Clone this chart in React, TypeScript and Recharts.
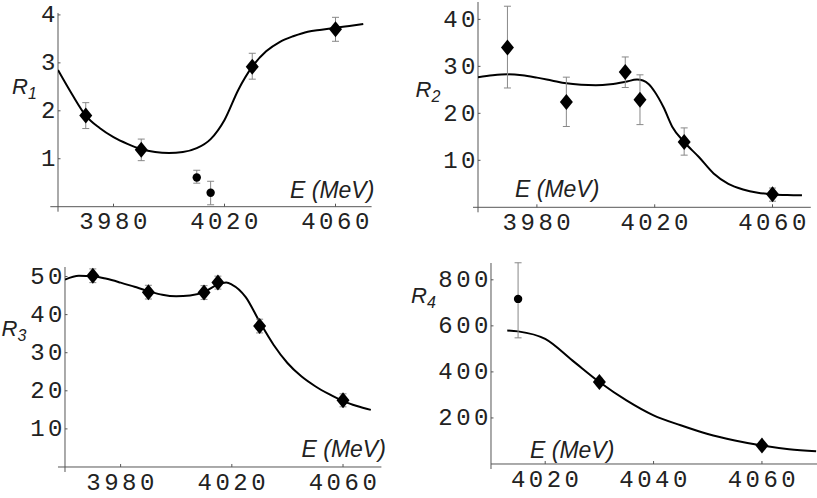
import React from "react";
import { ComposedChart, Line, Scatter, XAxis, YAxis, ErrorBar, ReferenceLine } from "recharts";

// ---- R1 ----
const r1DiamondE = [3970, 3990, 4030, 4060];
const r1DiamondV = [1.9, 1.19, 2.92, 3.7];
const r1DiamondLo = [1.63, 0.96, 2.66, 3.45];
const r1DiamondHi = [2.17, 1.41, 3.2, 3.95];
const r1CircleE = [4010, 4015];
const r1CircleV = [0.61, 0.29];
const r1CircleLo = [0.49, 0.04];
const r1CircleHi = [0.76, 0.53];
const r1CurveE = [3960, 3965, 3970, 3975, 3980, 3985, 3990, 3995, 4000, 4005, 4010, 4015, 4020, 4025, 4030, 4035, 4040, 4045, 4050, 4055, 4060, 4065, 4070];
const r1CurveV = [2.85, 2.35, 1.9, 1.64, 1.45, 1.31, 1.2, 1.14, 1.12, 1.14, 1.22, 1.41, 1.81, 2.44, 2.92, 3.24, 3.44, 3.56, 3.65, 3.69, 3.73, 3.77, 3.81];

// ---- R2 ----
const r2DiamondE = [3970, 3990, 4010, 4015, 4030, 4060];
const r2DiamondV = [34.0, 22.4, 28.8, 22.9, 13.9, 2.77];
const r2DiamondLo = [25.4, 17.2, 25.5, 17.6, 11.1, 1.3];
const r2DiamondHi = [42.8, 27.7, 32.0, 28.2, 16.9, 4.1];
const r2CurveE = [3960, 3965, 3970, 3975, 3980, 3985, 3990, 3995, 4000, 4005, 4010, 4014, 4016, 4018, 4020, 4023, 4026, 4030, 4035, 4040, 4045, 4050, 4055, 4060, 4065, 4070];
const r2CurveV = [27.7, 28.1, 28.3, 28.1, 27.6, 27.0, 26.4, 26.1, 26.0, 26.2, 26.7, 27.2, 27.0, 26.2, 24.6, 21.3, 17.1, 13.9, 10.7, 7.2, 5.0, 3.8, 3.1, 2.75, 2.6, 2.55];

// ---- R3 ----
const r3DiamondE = [3970, 3990, 4010, 4015, 4030, 4060];
const r3DiamondV = [50.2, 45.9, 45.8, 48.4, 37.0, 17.5];
const r3DiamondLo = [48.4, 44.1, 44.0, 46.7, 35.2, 15.8];
const r3DiamondHi = [52.0, 47.7, 47.6, 50.1, 38.8, 19.2];
const r3CurveE = [3960, 3965, 3970, 3975, 3980, 3985, 3990, 3995, 4000, 4005, 4010, 4015, 4018, 4020, 4025, 4030, 4035, 4040, 4045, 4050, 4055, 4060, 4065, 4070];
const r3CurveV = [49.2, 50.2, 50.1, 49.4, 48.4, 47.3, 46.2, 45.2, 44.8, 45.0, 45.9, 47.9, 48.4, 47.9, 44.6, 38.1, 32.1, 27.3, 23.8, 21.2, 19.1, 17.3, 16.0, 15.0];

// ---- R4 ----
const r4DiamondE = [4030, 4060];
const r4DiamondV = [356, 80];
const r4DiamondLo = [340, 66];
const r4DiamondHi = [372, 94];
const r4CircleE = [4015];
const r4CircleV = [717];
const r4CircleLo = [548];
const r4CircleHi = [874];
const r4CurveE = [4013, 4015, 4020, 4025, 4030, 4035, 4040, 4045, 4050, 4055, 4060, 4065, 4070];
const r4CurveV = [580, 576, 543, 450, 356, 276, 211, 168, 130, 102, 80, 64, 55];

const xTicksWide = [3980, 4020, 4060];
const xTicksR4 = [4020, 4040, 4060];
const yTicksR1 = [1, 2, 3, 4];
const yTicksR2 = [10, 20, 30, 40];
const yTicksR3 = [10, 20, 30, 40, 50];
const yTicksR4 = [200, 400, 600, 800];

const AXIS = "#555";
const TICK_FONT = "'Liberation Mono', 'DejaVu Sans Mono', monospace";
const LABEL_FONT = "'Liberation Sans', Arial, sans-serif";

const toPoints = (e: number[], v: number[], lo: number[], hi: number[]) =>
  e.map((x, i) => ({ e: x, v: v[i], err: [v[i] - lo[i], hi[i] - v[i]] }));
const toCurve = (e: number[], v: number[]) => e.map((x, i) => ({ e: x, v: v[i] }));

const Diamond = (props: any) => {
  const { cx, cy } = props;
  if (cx == null || cy == null) return null;
  return <polygon points={`${cx},${cy - 8} ${cx + 6.5},${cy} ${cx},${cy + 8} ${cx - 6.5},${cy}`} fill="#000" />;
};
const Dot = (props: any) => {
  const { cx, cy } = props;
  if (cx == null || cy == null) return null;
  return <circle cx={cx} cy={cy} r={4.2} fill="#000" />;
};

const XTick = (props: any) => {
  const { x, y, payload } = props;
  return (
    <g>
      <line x1={x} x2={x} y1={y} y2={y - 3} stroke={AXIS} />
      <text x={x + 1.5} y={y + 22.6} textAnchor="middle" fontFamily={TICK_FONT} fontSize={24} letterSpacing={3.5} fill="#222">
        {payload.value}
      </text>
    </g>
  );
};
const YTick = (props: any) => {
  const { x, y, payload } = props;
  return (
    <g>
      <line x1={x} x2={x + 2.5} y1={y} y2={y} stroke={AXIS} />
      <text x={x + 1} y={y + 7.5} textAnchor="end" fontFamily={TICK_FONT} fontSize={24} letterSpacing={3.5} fill="#222">
        {payload.value}
      </text>
    </g>
  );
};

type PanelProps = {
  left: number; top: number; right: number; bottom: number;
  xDomain: [number, number]; yDomain: [number, number];
  xTicks: number[]; yTicks: number[];
  overhang: number;
  curve: { e: number; v: number }[];
  diamonds: any[];
  circles?: any[];
};

function Panel(p: PanelProps) {
  // the axes get 1px of room so recharts still draws their ticks
  const ML = 75, MR = 10, MT = 10, MB = 40, AX = 1;
  const w = p.right - p.left;
  const h = p.bottom - p.top;
  const xFrom = p.xDomain[0] - (p.overhang * (p.xDomain[1] - p.xDomain[0])) / w;
  const yBelow = -(5 * (p.yDomain[1] - p.yDomain[0])) / h;
  return (
    <div style={{ position: "absolute", left: p.left - ML - AX, top: p.top - MT }}>
      <ComposedChart width={w + ML + MR + AX} height={h + MT + MB + AX} margin={{ left: ML, right: MR, top: MT, bottom: MB }}>
        <XAxis type="number" dataKey="e" domain={p.xDomain} ticks={p.xTicks} interval={0} allowDataOverflow
          axisLine={false} tickLine={false} tickSize={0} tickMargin={0} height={AX} tick={XTick} />
        <YAxis type="number" dataKey="v" domain={p.yDomain} ticks={p.yTicks} interval={0} allowDataOverflow
          axisLine={false} tickLine={false} tickSize={0} tickMargin={0} width={AX} tick={YTick} />
        <ReferenceLine segment={[{ x: xFrom, y: 0 }, { x: p.xDomain[1], y: 0 }]} stroke={AXIS} strokeWidth={1} ifOverflow="visible" />
        <ReferenceLine segment={[{ x: p.xDomain[0], y: yBelow }, { x: p.xDomain[0], y: p.yDomain[1] }]} stroke={AXIS} strokeWidth={1} ifOverflow="visible" />
        <Line data={p.curve} dataKey="v" type="monotone" stroke="#000" strokeWidth={2} dot={false} isAnimationActive={false} />
        <Scatter data={p.diamonds} dataKey="v" shape={Diamond} isAnimationActive={false}>
          <ErrorBar dataKey="err" direction="y" width={3.5} stroke="#888" strokeWidth={1} />
        </Scatter>
        {p.circles ? (
          <Scatter data={p.circles} dataKey="v" shape={Dot} isAnimationActive={false}>
            <ErrorBar dataKey="err" direction="y" width={3.5} stroke="#888" strokeWidth={1} />
          </Scatter>
        ) : null}
      </ComposedChart>
    </div>
  );
}

const RLabel = ({ x, y, n }: { x: number; y: number; n: string }) => (
  <text x={x} y={y} fontFamily={LABEL_FONT} fontStyle="italic" fontSize={22} fill="#222">
    R<tspan fontSize={16} dy={5}>{n}</tspan>
  </text>
);
const ELabel = ({ x, y }: { x: number; y: number }) => (
  <text x={x} y={y} fontFamily={LABEL_FONT} fontStyle="italic" fontSize={23} fill="#222">
    E (MeV)
  </text>
);

export default function App() {
  return (
    <div style={{ position: "absolute", left: 0, top: 0, width: 817, height: 498, background: "#fff", overflow: "hidden" }}>
      <Panel left={57.7} top={13} right={371.3} bottom={206.7} xDomain={[3960, 4073]} yDomain={[0, 4.04]}
        xTicks={xTicksWide} yTicks={yTicksR1} overhang={7.7}
        curve={toCurve(r1CurveE, r1CurveV)}
        diamonds={toPoints(r1DiamondE, r1DiamondV, r1DiamondLo, r1DiamondHi)}
        circles={toPoints(r1CircleE, r1CircleV, r1CircleLo, r1CircleHi)} />
      <Panel left={478.3} top={1.7} right={811.1} bottom={207} xDomain={[3960, 4073]} yDomain={[0, 43.7]}
        xTicks={xTicksWide} yTicks={yTicksR2} overhang={5}
        curve={toCurve(r2CurveE, r2CurveV)}
        diamonds={toPoints(r2DiamondE, r2DiamondV, r2DiamondLo, r2DiamondHi)} />
      <Panel left={65.3} top={266.7} right={381.7} bottom={466.7} xDomain={[3960, 4073.8]} yDomain={[0, 52.5]}
        xTicks={xTicksWide} yTicks={yTicksR3} overhang={7}
        curve={toCurve(r3CurveE, r3CurveV)}
        diamonds={toPoints(r3DiamondE, r3DiamondV, r3DiamondLo, r3DiamondHi)} />
      <Panel left={490.7} top={263.3} right={818} bottom={464.3} xDomain={[4010, 4070.4]} yDomain={[0, 873]}
        xTicks={xTicksR4} yTicks={yTicksR4} overhang={0}
        curve={toCurve(r4CurveE, r4CurveV)}
        diamonds={toPoints(r4DiamondE, r4DiamondV, r4DiamondLo, r4DiamondHi)}
        circles={toPoints(r4CircleE, r4CircleV, r4CircleLo, r4CircleHi)} />
      <svg width={817} height={498} style={{ position: "absolute", left: 0, top: 0, pointerEvents: "none" }}>
        <RLabel x={12} y={94} n="1" />
        <RLabel x={415.5} y={96.5} n="2" />
        <RLabel x={1.5} y={336} n="3" />
        <RLabel x={411} y={303} n="4" />
        <ELabel x={290} y={197.5} />
        <ELabel x={515} y={196.5} />
        <ELabel x={301.5} y={457.3} />
        <ELabel x={530} y={458.3} />
      </svg>
    </div>
  );
}
